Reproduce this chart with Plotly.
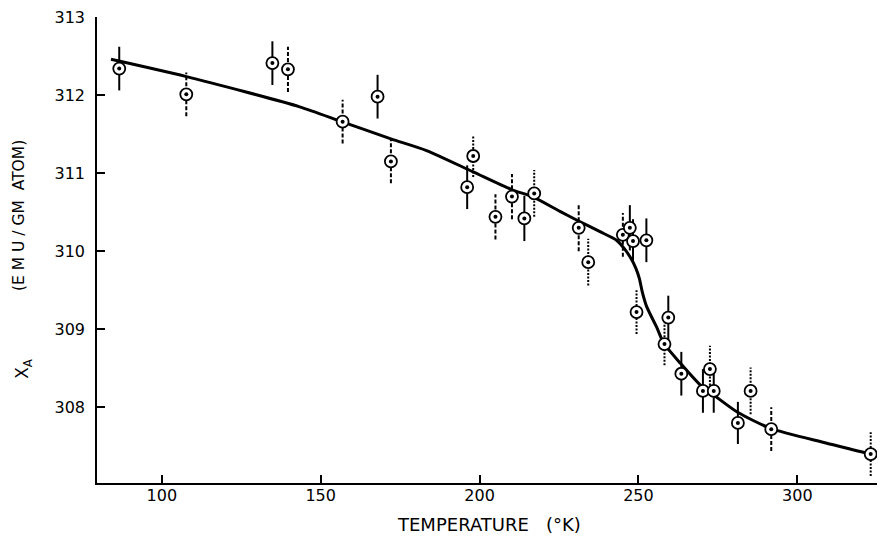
import plotly.graph_objects as go

# ---- data ----
temps = [86.6, 107.7, 134.8, 139.7, 156.9, 167.9, 172.1, 196.1, 198.0, 205.0,
         210.2, 214.1, 217.2, 231.2, 234.2, 245.1, 247.3, 248.3, 252.5, 249.4,
         259.4, 258.2, 263.5, 270.3, 272.5, 273.7, 285.3, 281.3, 291.8, 323.1]
chi = [312.34, 312.01, 312.41, 312.33, 311.66, 311.98, 311.15, 310.82, 311.22, 310.44,
       310.70, 310.42, 310.74, 310.30, 309.86, 310.21, 310.30, 310.13, 310.14, 309.22,
       309.15, 308.81, 308.43, 308.21, 308.49, 308.21, 308.21, 307.80, 307.72, 307.40]
err = [0.28, 0.28, 0.28, 0.29, 0.28, 0.28, 0.28, 0.28, 0.27, 0.29,
       0.29, 0.29, 0.30, 0.30, 0.30, 0.28, 0.29, 0.28, 0.28, 0.28,
       0.28, 0.27, 0.28, 0.28, 0.30, 0.28, 0.30, 0.27, 0.28, 0.28]
# measurement run (drawn as solid / dashed / dotted error bars)
run = ["A", "B", "A", "B", "B", "A", "B", "A", "C", "B",
       "B", "A", "C", "B", "C", "B", "A", "A", "A", "C",
       "A", "C", "A", "A", "C", "A", "C", "A", "B", "C"]

curve_T = [84.0, 107.5, 143.4, 156.6, 172.1, 183.3, 197.8, 210.1, 217.1, 225.3,
           231.0, 237.9, 243.1, 245.8, 247.9, 249.2, 250.3, 251.2, 252.6, 255.7,
           258.0, 263.3, 270.1, 273.6, 281.1, 291.6, 309.3, 322.9, 327.6]
curve_chi = [312.46, 312.24, 311.85, 311.66, 311.44, 311.29, 311.02, 310.79, 310.69, 310.51,
             310.39, 310.25, 310.14, 310.02, 309.89, 309.78, 309.65, 309.48, 309.29, 309.03,
             308.82, 308.56, 308.26, 308.16, 307.94, 307.73, 307.54, 307.40, 307.34]

x_ticks = [100, 150, 200, 250, 300]
y_ticks = [308, 309, 310, 311, 312, 313]

run_dash = {"A": "solid", "B": "4px,2px", "C": "2px,1.5px"}

FONT = "DejaVu Sans"
fig = go.Figure()

fig.add_trace(go.Scatter(x=curve_T, y=curve_chi, mode="lines",
                         line=dict(color="black", width=3, shape="spline", smoothing=0.7),
                         hoverinfo="skip", showlegend=False))

for key, dash in run_dash.items():
    xs, ys = [], []
    for t, c, e, r in zip(temps, chi, err, run):
        if r == key:
            xs += [t, t, None]
            ys += [c - e, c + e, None]
    fig.add_trace(go.Scatter(x=xs, y=ys, mode="lines",
                             line=dict(color="black", width=2, dash=dash),
                             hoverinfo="skip", showlegend=False))

fig.add_trace(go.Scatter(x=temps, y=chi, mode="markers",
                         marker=dict(symbol="circle", size=12, color="white",
                                     line=dict(color="black", width=1.8)),
                         showlegend=False))
fig.add_trace(go.Scatter(x=temps, y=chi, mode="markers",
                         marker=dict(symbol="circle", size=4, color="black"),
                         hoverinfo="skip", showlegend=False))

# the page body adds an 8px offset, so the figure is 8px smaller and shifted
fig.update_layout(
    width=877, height=536,
    margin=dict(l=89, r=0, t=9, b=61),
    paper_bgcolor="white", plot_bgcolor="white",
    font=dict(family=FONT, color="black", size=16),
    xaxis=dict(range=[79.6, 327.6], tickvals=x_ticks, ticks="inside", ticklen=8,
               tickwidth=1.5, tickcolor="black", showline=True, linecolor="black",
               linewidth=1.5, showgrid=False, zeroline=False, ticklabelstandoff=-3,
               ticklabeloverflow="allow", tickfont=dict(size=16)),
    yaxis=dict(range=[307.03, 313.001], tickvals=y_ticks, ticks="inside", ticklen=8,
               tickwidth=1.5, tickcolor="black", showline=True, linecolor="black",
               linewidth=1.5, showgrid=False, zeroline=False, ticklabelstandoff=7,
               ticklabeloverflow="allow", tickfont=dict(size=16)),
    annotations=[
        dict(text="TEMPERATURE   (°K)", xref="paper", yref="paper",
             x=0.497, y=0, xanchor="center", yanchor="middle", yshift=-41,
             showarrow=False, font=dict(size=18)),
        dict(text="(E M U / GM  ATOM)", xref="paper", yref="paper",
             x=0, y=0.573, xshift=-78, xanchor="center", yanchor="middle",
             textangle=-90, showarrow=False, font=dict(size=15.5)),
        dict(text="X<sub>A</sub>", xref="paper", yref="paper",
             x=0, y=0.245, xshift=-73, xanchor="center", yanchor="middle",
             textangle=-90, showarrow=False, font=dict(size=17)),
    ],
)

fig.write_html("out.html")
